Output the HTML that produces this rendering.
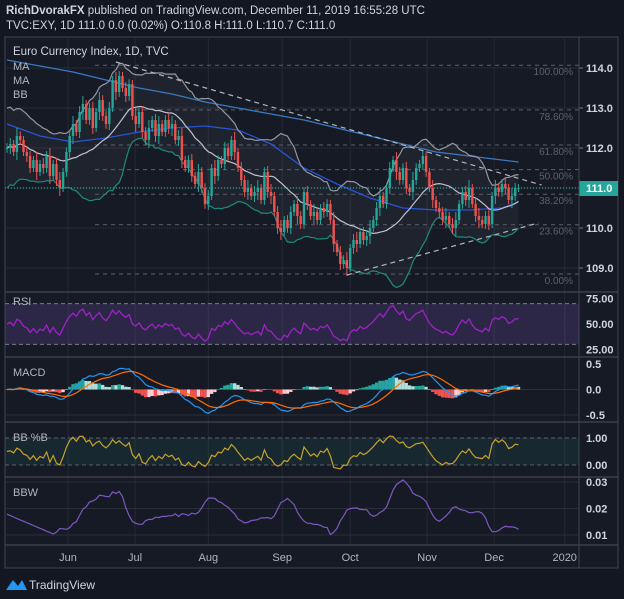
<!DOCTYPE html>
<html><head><meta charset="utf-8"><style>
html,body{margin:0;padding:0;background:#131722;}
svg{display:block;font-family:"Liberation Sans",sans-serif;}
</style></head><body>
<svg id="c" width="624" height="599" viewBox="0 0 624 599">
<rect x="0" y="0" width="624" height="599" fill="#131722"/>
<text x="6" y="14" font-size="11.5" fill="#d1d4dc"><tspan font-weight="bold">RichDvorakFX</tspan> published on TradingView.com, December 11, 2019 16:55:28 UTC</text>
<text x="6" y="29" font-size="11.5" fill="#d1d4dc">TVC:EXY, 1D  111.0 0.0 (0.02%) O:110.8 H:111.0 L:110.7 C:111.0</text>
<rect x="5" y="37" width="613" height="531" fill="#161a25" stroke="#434651" stroke-width="1"/>
<g id="g"></g>
<g>
<path d="M6 590 L13 580 L18 586 L22 580 L27 590 Z" fill="#2196f3"/>
<text x="29" y="589" font-size="12" fill="#d1d4dc">TradingView</text>
</g>
</svg>
<script>
const closes=[112.0,112.1,111.9,112.3,112.2,111.9,111.8,111.5,111.7,111.4,111.6,111.5,111.8,111.3,111.6,111.2,111.0,111.4,111.9,112.3,112.6,112.4,112.9,113.1,112.7,113.0,112.5,112.9,113.2,112.8,112.6,113.0,113.7,113.4,113.8,113.5,113.3,113.6,112.8,112.6,112.9,112.4,112.2,112.5,112.7,112.3,112.6,112.4,112.7,112.5,112.6,112.2,112.3,111.7,111.5,111.7,111.3,111.1,111.4,111.0,110.6,110.8,111.5,111.3,111.7,111.6,112.0,111.8,112.2,111.9,111.5,111.2,110.9,111.0,110.8,110.9,111.0,110.7,111.4,110.9,110.8,110.4,110.0,109.9,110.2,110.0,110.4,110.6,110.3,110.1,110.9,110.6,110.3,110.4,110.2,110.5,110.4,110.6,110.2,109.6,109.4,109.1,109.2,109.0,109.5,109.7,109.6,109.9,109.7,109.8,110.0,110.2,110.5,110.8,110.6,111.0,111.5,111.7,111.4,111.2,111.5,111.0,110.9,111.2,111.5,111.6,111.8,111.4,111.0,110.7,110.5,110.4,110.2,110.3,110.1,110.0,110.2,110.6,110.9,110.7,111.0,110.6,110.3,110.2,110.1,110.3,110.1,110.8,111.0,110.9,111.1,111.0,110.7,110.8,111.0,111.0];
const wicks=[0.12,0.15,0.1,0.2,0.12,0.1,0.15,0.12,0.1,0.2,0.1,0.15,0.12,0.2,0.1,0.15,0.2,0.1,0.12,0.15,0.2,0.1,0.15,0.2,0.1,0.12,0.15,0.1,0.2,0.12];
const maLongBars=[0,10,20,30,40,50,60,70,80,90,100,110,120,130,140,150,155];
const maLongVals=[114.2,114.05,113.9,113.7,113.5,113.35,113.15,113.0,112.85,112.7,112.5,112.3,112.1,111.9,111.8,111.7,111.65];
const maMidVals=[112.6,112.3,112.15,112.25,112.4,112.5,112.55,112.45,112.1,111.5,111.1,110.75,110.5,110.45,110.45,110.5,110.65];
const priceTicks=[114.0,113.0,112.0,111.0,110.0,109.0];
const fibLevels=[1.0,0.786,0.618,0.5,0.382,0.236,0.0];
const fibLabels=["100.00%","78.60%","61.80%","50.00%","38.20%","23.60%","0.00%"];
const fibHigh=114.07, fibLow=108.85;
const monthLabels=["Jun","Jul","Aug","Sep","Oct","Nov","Dec","2020"];
const monthBars=[18.5,38.8,61,83.4,104,127.3,147.6,169];
const rsiTicks=[75,50,25];
const macdTicks=[0.5,0,-0.5];
const pbTicks=[1,0];
const bbwTicks=[0.03,0.02,0.01];

const NS="http://www.w3.org/2000/svg";
const G=document.getElementById('g');
function mk(t,a,p){const e=document.createElementNS(NS,t);for(const k in a)e.setAttribute(k,a[k]);(p||G).appendChild(e);return e;}
const X=i=>7+i*3.3;
const yP=p=>188-(p-111)*40;
const yR=v=>324-(v-50)*1.02;
const yM=v=>389.5-v*51;
const yB=v=>465-v*27;
const yW=v=>535-(v-0.01)*2650;
const N=closes.length;

const mid=[],up=[],lo=[];
for(let i=0;i<N;i++){const s=Math.max(0,i-19);const w=closes.slice(s,i+1);const m=w.reduce((a,b)=>a+b,0)/w.length;
let sd=Math.sqrt(w.reduce((a,b)=>a+(b-m)*(b-m),0)/w.length);if(i<19)sd=Math.max(sd,0.5-i*0.015);sd=Math.max(sd,0.15);
mid.push(m);up.push(m+2*sd);lo.push(m-2*sd);}
const rsi=[];let ag=0.12,al=0.12;
for(let i=0;i<N;i++){const d=i?closes[i]-closes[i-1]:0;ag=(ag*13+Math.max(d,0))/14;al=(al*13+Math.max(-d,0))/14;rsi.push(100-100/(1+ag/al));}
function ema(a,n){const k=2/(n+1),o=[];a.forEach((v,i)=>o.push(i?v*k+o[i-1]*(1-k):v));return o;}
const e12=ema(closes,12),e26=ema(closes,26);const macd=e12.map((v,i)=>v-e26[i]);const sig=ema(macd,9);const hist=macd.map((v,i)=>v-sig[i]);
const pb=closes.map((c,i)=>(c-lo[i])/(up[i]-lo[i]));
const bbw=closes.map((c,i)=>(up[i]-lo[i])/mid[i]);

function line(x1,y1,x2,y2,st,name){const e=mk('line',{x1,y1,x2,y2,stroke:st.c,'stroke-width':st.w||1});if(st.d)e.setAttribute('stroke-dasharray',st.d);

return e;}
function txt(x,y,s,attrs,name){const e=mk('text',Object.assign({x,y,'font-size':11,fill:'#b2b5be'},attrs));e.textContent=s;

return e;}
function poly(vals,fy,color,name,w){const pts=vals.map((v,i)=>X(i).toFixed(1)+','+fy(v).toFixed(1)).join(' ');const e=mk('polyline',{points:pts,fill:'none',stroke:color,'stroke-width':w||1.2});

return e;}

monthBars.forEach((b,k)=>{line(X(b),37,X(b),545,{c:'#262a35'},'grid-v-'+monthLabels[k].toLowerCase());
txt(X(b),561,monthLabels[k],{'text-anchor':'middle'},'x-label-'+monthLabels[k].toLowerCase());});
priceTicks.forEach(p=>{line(5,yP(p),579,yP(p),{c:'#262a35'},'grid-h-'+p);
line(579,yP(p),583,yP(p),{c:'#787b86'},'tick-'+p);
txt(586,yP(p)+4,p.toFixed(1),{fill:'#d1d4dc','font-weight':'bold'},'price-label-'+p);});
{const pts=up.map((v,i)=>X(i)+','+yP(v)).concat(lo.map((v,i)=>X(i)+','+yP(v)).reverse()).join(' ');
const e=mk('polygon',{points:pts,fill:'rgba(150,155,170,0.07)'});

}
fibLevels.forEach((f,k)=>{const p=fibLow+(fibHigh-fibLow)*f;line(95,yP(p),579,yP(p),{c:'#5d606b',d:'4,4'},'fib-line-'+k);
txt(573,yP(p)+10,fibLabels[k],{'text-anchor':'end',fill:'#5d606b','font-size':10},'fib-label-'+k);});
{const pts=maLongBars.map((b,k)=>X(b)+','+yP(maLongVals[k])).join(' ');const e=mk('polyline',{points:pts,fill:'none',stroke:'#3a78c2','stroke-width':1.3});

}
{const pts=maLongBars.map((b,k)=>X(b)+','+yP(maMidVals[k])).join(' ');const e=mk('polyline',{points:pts,fill:'none',stroke:'#2962ff','stroke-width':1.3,'stroke-opacity':0.8});

}
poly(up,yP,'#9598a1','bb-upper');
poly(mid,yP,'#c0c3cc','bb-basis');
poly(lo,yP,'#1e8a7a','bb-lower');
closes.forEach((c,i)=>{const o=i?closes[i-1]:c;const w=wicks[i%wicks.length];const col=c>=o?'#26a69a':'#ef5350';
const h=Math.max(o,c)+w,l=Math.min(o,c)-w;
line(X(i),yP(h),X(i),yP(l),{c:col},'candle-wick-'+i);
const top=yP(Math.max(o,c)),bh=Math.max(1,Math.abs(yP(o)-yP(c)));
const r=mk('rect',{x:X(i)-1.2,y:top,width:2.4,height:bh,fill:col});

});
line(X(33),yP(114.15),X(162),185,{c:'#b2b5be',d:'5,4',w:1.2},'trendline-upper');
line(X(103),275,X(161),223,{c:'#b2b5be',d:'5,4',w:1.2},'trendline-lower');
line(5,188,579,188,{c:'#26a69a',d:'1,2',w:1.2},'last-price-line');
{const r=mk('rect',{x:579,y:181,width:39,height:15,fill:'#26a69a'});

}
txt(586,192,'111.0',{fill:'#ffffff','font-weight':'bold'},'last-price-text');
txt(13,55,'Euro Currency Index, 1D, TVC',{fill:'#d1d4dc','font-size':11.5},'main-title');
txt(13,70,'MA',{fill:'#b2b5be'},'legend-ma-1');
txt(13,84,'MA',{fill:'#b2b5be'},'legend-ma-2');
txt(13,98,'BB',{fill:'#b2b5be'},'legend-bb');

[292,357,422,477,545].forEach((y,k)=>line(5,y,618,y,{c:'#434651',w:1.2},'pane-separator-'+k));
line(579,37,579,568,{c:'#434651'},'price-axis-border');

{const r=mk('rect',{x:5,y:yR(70),width:574,height:yR(30)-yR(70),fill:'rgba(126,87,194,0.22)'});

}
line(5,yR(70),579,yR(70),{c:'#787b86',d:'4,3'},'rsi-upper-band');
line(5,yR(30),579,yR(30),{c:'#787b86',d:'4,3'},'rsi-lower-band');
line(5,yR(50),579,yR(50),{c:'#2a2e39'},'rsi-mid');
rsiTicks.forEach(t=>txt(586,yR(t)+4,t.toFixed(2),{fill:'#d1d4dc','font-weight':'bold'},'rsi-tick-'+t));
poly(rsi,yR,'#a020c8','rsi-line',1.3);
txt(13,305,'RSI',{fill:'#b2b5be'},'rsi-title');

line(5,yM(0),579,yM(0),{c:'#2a2e39'},'macd-zero');
line(5,yM(-0.5),579,yM(-0.5),{c:'#2a2e39'},'macd-grid-neg');
macdTicks.forEach(t=>txt(586,yM(t)+4,t.toFixed(1),{fill:'#d1d4dc','font-weight':'bold'},'macd-tick-'+t));
hist.forEach((h,i)=>{const pv=i?hist[i-1]:h;const col=h>=0?(h>=pv?'#26a69a':'#b2dfdb'):(h<pv?'#ef5350':'#ffcdd2');
const y0=yM(0),y1=yM(h);const r=mk('rect',{x:X(i)-1.65,y:Math.min(y0,y1),width:3.3,height:Math.max(0.5,Math.abs(y1-y0)),fill:col});

});
poly(macd,yM,'#2196f3','macd-line');
poly(sig,yM,'#ff6d00','macd-signal-line');
txt(13,376,'MACD',{fill:'#b2b5be'},'macd-title');

{const r=mk('rect',{x:5,y:yB(1),width:574,height:yB(0)-yB(1),fill:'rgba(38,166,154,0.1)'});

}
line(5,yB(1),579,yB(1),{c:'#5d606b',d:'4,3'},'pb-upper');
line(5,yB(0),579,yB(0),{c:'#5d606b',d:'4,3'},'pb-lower');
pbTicks.forEach(t=>txt(586,yB(t)+4,t.toFixed(2),{fill:'#d1d4dc','font-weight':'bold'},'pb-tick-'+t));
poly(pb,yB,'#c9a227','pb-line');
txt(13,441,'BB %B',{fill:'#b2b5be'},'pb-title');

bbwTicks.forEach(t=>{line(5,yW(t),579,yW(t),{c:'#2a2e39'},'bbw-grid-'+t);txt(586,yW(t)+4,t.toFixed(2),{fill:'#d1d4dc','font-weight':'bold'},'bbw-tick-'+t);});
poly(bbw,yW,'#7e57c2','bbw-line');
txt(13,496,'BBW',{fill:'#b2b5be'},'bbw-title');
</script>
</body></html>
